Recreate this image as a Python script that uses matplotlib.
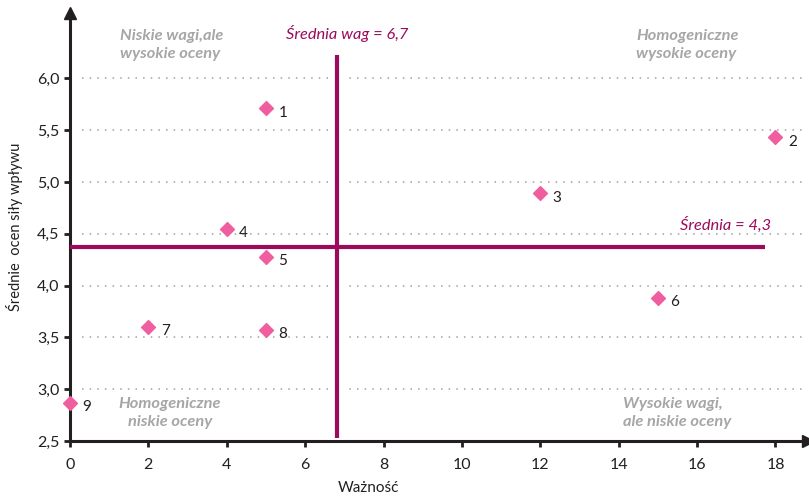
import matplotlib.pyplot as plt
from matplotlib.ticker import FuncFormatter
import matplotlib.patheffects as pe

# dane z wykresu
etykiety = ['1', '2', '3', '4', '5', '6', '7', '8', '9']
waznosc = [5, 18, 12, 4, 5, 15, 2, 5, 0]
srednie = [5.71, 5.43, 4.89, 4.55, 4.28, 3.88, 3.60, 3.57, 2.87]

srednia_wag = 6.8
srednia_ocen = 4.37

MAGENTA = '#9c0a5c'
ROZ = '#ef5fa0'
SZARY = '#a6a6a6'
CZARNY = '#231f20'

plt.rcParams['font.family'] = ['Lato', 'DejaVu Sans']

fig = plt.figure(figsize=(8.09, 4.96), dpi=100)
ax = fig.add_axes([70 / 809, 1 - 441 / 496, 738 / 809, 428 / 496])
ax.set_xlim(0, 18.83)
ax.set_ylim(2.5, 6.63)

# linie siatki (kropkowane)
for y in [3.0, 3.5, 4.0, 4.5, 5.0, 5.5, 6.0]:
    ax.plot([0.3, 18.8], [y, y], color='#a0a0a0', lw=1.1,
            linestyle=(0, (1, 4)), zorder=1)

# linie srednich
ax.plot([srednia_wag, srednia_wag], [2.53, 6.22], color=MAGENTA, lw=3, zorder=3,
        solid_capstyle='butt',
        path_effects=[pe.Stroke(linewidth=9, foreground='white'), pe.Normal()])
ax.plot([0, 17.73], [srednia_ocen, srednia_ocen], color=MAGENTA, lw=3, zorder=4,
        solid_capstyle='butt')

# punkty
ax.scatter(waznosc, srednie, marker='D', s=50, color=ROZ, zorder=5, clip_on=False)
for x, y, t in zip(waznosc, srednie, etykiety):
    ax.annotate(t, (x, y), xytext=(9, -6), textcoords='offset points',
                fontsize=11, color=CZARNY, zorder=6)

# opisy cwiartek
styl = dict(color=SZARY, fontsize=11.8, fontweight='bold', style='italic',
            linespacing=1.4, va='center')
ax.text(1.28, 6.32, 'Niskie wagi,ale\nwysokie oceny', ha='left', **styl)
ax.text(14.44, 6.32, 'Homogeniczne\nwysokie oceny', ha='left', **styl)
ax.text(2.55, 2.77, 'Homogeniczne\nniskie oceny', ha='center', multialignment='center', **styl)
ax.text(14.1, 2.77, 'Wysokie wagi,\nale niskie oceny', ha='left', **styl)

ax.text(5.51, 6.43, 'Średnia wag = 6,7', color=MAGENTA, fontsize=11.8,
        style='italic', va='center')
ax.text(15.56, 4.59, 'Średnia = 4,3', color=MAGENTA, fontsize=11.8,
        style='italic', va='center')

# osie
for s in ['top', 'right']:
    ax.spines[s].set_visible(False)
for s in ['left', 'bottom']:
    ax.spines[s].set_linewidth(2.2)
    ax.spines[s].set_color(CZARNY)
ax.plot(1, 0, '>', color=CZARNY, markersize=9, transform=ax.transAxes, clip_on=False)
ax.plot(0, 1, '^', color=CZARNY, markersize=9, transform=ax.transAxes, clip_on=False)

ax.set_xticks(range(0, 19, 2))
ax.set_yticks([2.5, 3.0, 3.5, 4.0, 4.5, 5.0, 5.5, 6.0])
ax.yaxis.set_major_formatter(FuncFormatter(lambda v, p: f'{v:.1f}'.replace('.', ',')))
ax.tick_params(axis='both', length=4, width=2, color=CZARNY, labelsize=11.5,
               labelcolor=CZARNY, direction='out')
ax.tick_params(axis='x', pad=8)

ax.set_xlabel('Ważność', fontsize=11, color=CZARNY)
ax.xaxis.set_label_coords(0.404, -0.093)
ax.set_ylabel('Średnie  ocen siły wpływu', fontsize=10.5, color=CZARNY, labelpad=10)

fig.savefig('out.png', dpi=100)
